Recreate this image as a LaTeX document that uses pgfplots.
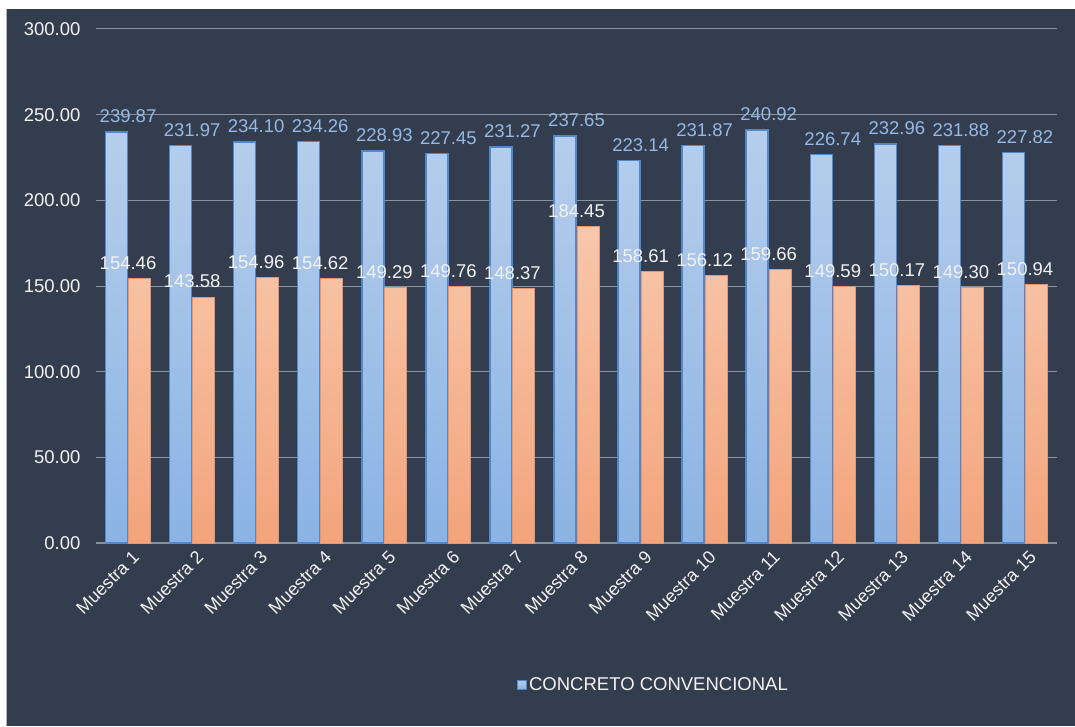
\documentclass[border=0pt]{standalone}
\usepackage{pgfplots}
\pgfplotsset{compat=1.18}
\usepackage{fontspec}
\setmainfont{Liberation Sans}
\definecolor{bg}{HTML}{333D4E}
\definecolor{gridc}{HTML}{8A929D}
\definecolor{btop}{HTML}{B6CEEC}
\definecolor{bbot}{HTML}{8CB3E3}
\definecolor{bdraw}{HTML}{4F88CC}
\definecolor{otop}{HTML}{F8C7AB}
\definecolor{obot}{HTML}{F3A47B}
\definecolor{odraw}{HTML}{E39670}
\definecolor{blab}{HTML}{95B8E4}
\definecolor{txt}{HTML}{F2F2F2}
\begin{document}
\begin{tikzpicture}[x=1pt,y=1pt]
\fill[white] (0,0) rectangle (1075,726);
\fill[bg] (7,0) rectangle (1075,717);
\draw[gray!60, line width=1pt] (6.5,0) -- (6.5,717);
\useasboundingbox (0,0) rectangle (1075,726);
\begin{axis}[
  at={(96pt,183pt)}, anchor=south west,
  scale only axis, width=961pt, height=514pt,
  xmin=0.5, xmax=15.5, ymin=0, ymax=300,
  ytick={0,50,...,300},
  xtick={1,...,15},
  xticklabels={Muestra 1,Muestra 2,Muestra 3,Muestra 4,Muestra 5,Muestra 6,Muestra 7,Muestra 8,Muestra 9,Muestra 10,Muestra 11,Muestra 12,Muestra 13,Muestra 14,Muestra 15},
  xticklabel style={rotate=45, anchor=north east, font=\fontsize{18}{20}\selectfont, text=txt, inner sep=1pt, yshift=-6pt, xshift=-1pt},
  yticklabel style={font=\fontsize{18.5}{20}\selectfont, text=txt, xshift=-12pt},
  /pgf/number format/assume math mode=true,
  yticklabel={\pgfmathprintnumber[fixed,precision=2,zerofill]{\tick}},
  major tick length=0pt,
  ymajorgrids, grid style={draw=gridc, line width=1pt},
  axis x line*=bottom, axis y line*=left,
  axis line style={-},
  y axis line style={draw=none},
  x axis line style={draw=gridc, line width=1.2pt},
  nodes near coords={\pgfmathprintnumber[fixed,precision=2,zerofill,assume math mode=true]{\pgfplotspointmeta}},
  nodes near coords style={font=\fontsize{18.5}{20}\selectfont, yshift=5pt},
  legend style={at={(0.438,-0.276)}, anchor=west, draw=none, fill=none, text=txt, font=\fontsize{18.5}{20}\selectfont, inner sep=0pt},
  legend image code/.code={\draw[draw=bdraw, fill=btop, line width=1pt] (0pt,-4.5pt) rectangle (9pt,4.5pt);},
]
\addplot[ybar, bar width=22pt, bar shift=-11.5pt, draw=bdraw, line width=1.5pt, top color=btop, bottom color=bbot, nodes near coords style={text=blab}] coordinates {
(1,239.87) (2,231.97) (3,234.10) (4,234.26) (5,228.93) (6,227.45) (7,231.27) (8,237.65) (9,223.14) (10,231.87) (11,240.92) (12,226.74) (13,232.96) (14,231.88) (15,227.82)};
\addlegendentry{CONCRETO CONVENCIONAL}
\addplot[ybar, forget plot, bar width=22pt, bar shift=11.5pt, draw=odraw, line width=1pt, top color=otop, bottom color=obot, nodes near coords style={text=txt}] coordinates {
(1,154.46) (2,143.58) (3,154.96) (4,154.62) (5,149.29) (6,149.76) (7,148.37) (8,184.45) (9,158.61) (10,156.12) (11,159.66) (12,149.59) (13,150.17) (14,149.30) (15,150.94)};
\end{axis}
\end{tikzpicture}
\end{document}
